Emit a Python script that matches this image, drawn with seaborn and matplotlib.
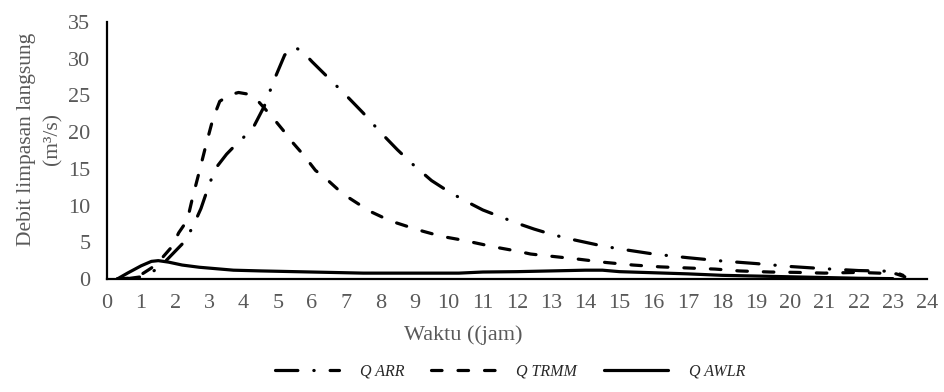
import matplotlib
matplotlib.use("Agg")
import matplotlib.pyplot as plt
import seaborn as sns
import pandas as pd
from matplotlib.lines import Line2D

# Direct runoff hydrographs (m3/s) against time (hours)
t_arr = [0.3, 0.6, 1.0, 1.3, 1.5, 1.75, 2.0, 2.25, 2.5, 2.75, 3.0, 3.2, 3.5, 3.75,
         4.0, 4.3, 4.6, 4.9, 5.2, 5.45, 5.7, 6.0, 6.5, 7.0, 7.5, 8.0, 8.5, 9.0,
         9.5, 10.0, 10.5, 11.0, 11.5, 12.0, 12.5, 13.0, 13.5, 14.0, 14.5, 15.0,
         16.0, 17.0, 18.0, 19.0, 20.0, 21.0, 22.0, 23.0, 23.3]
q_arr = [0.0, 0.05, 0.3, 0.9, 1.5, 2.6, 3.8, 5.0, 7.0, 9.6, 13.0, 15.2, 17.0, 18.2,
         19.3, 20.8, 23.5, 27.2, 30.5, 31.6, 31.1, 29.6, 27.3, 25.0, 22.6, 20.0, 17.6, 15.4,
         13.4, 11.9, 10.6, 9.4, 8.5, 7.6, 6.8, 6.1, 5.5, 5.0, 4.5, 4.1,
         3.4, 2.9, 2.45, 2.1, 1.7, 1.4, 1.15, 1.05, 0.5]

t_trmm = [0.3, 0.6, 1.0, 1.3, 1.6, 1.9, 2.1, 2.35, 2.5, 2.7, 2.9, 3.1, 3.3, 3.6,
          3.85, 4.1, 4.35, 4.6, 4.9, 5.2, 5.45, 5.75, 6.1, 6.45, 6.9, 7.4, 7.75,
          8.3, 8.9, 9.25, 9.8, 10.4, 10.8, 11.35, 12.0, 12.4, 13.0, 13.8, 14.6,
          15.4, 16.2, 17.0, 17.8, 18.5, 19.4, 20.2, 21.0, 22.0, 22.6, 23.1, 23.35]
q_trmm = [0.0, 0.1, 0.6, 1.5, 2.8, 4.4, 6.3, 8.0, 11.0, 14.6, 18.3, 21.8, 24.2, 25.1,
          25.4, 25.2, 24.6, 23.3, 21.7, 20.0, 18.5, 16.9, 14.8, 13.5, 11.6, 10.1, 9.1,
          7.9, 7.0, 6.5, 5.8, 5.3, 4.9, 4.35, 3.8, 3.4, 3.1, 2.7, 2.25,
          1.9, 1.65, 1.5, 1.35, 1.1, 0.95, 0.9, 0.8, 0.9, 0.8, 0.7, 0.3]

t_awlr = [0.3, 0.6, 1.0, 1.3, 1.5, 1.8, 2.2, 2.7, 3.2, 3.7, 4.5, 5.5, 6.5, 7.5,
          8.5, 9.5, 10.3, 11.0, 12.0, 13.0, 14.0, 14.5, 15.0, 16.0, 17.0, 18.0,
          19.0, 20.0, 21.0, 22.0, 23.0]
q_awlr = [0.0, 0.8, 1.8, 2.4, 2.5, 2.3, 1.9, 1.6, 1.4, 1.2, 1.1, 1.0, 0.9, 0.8,
          0.8, 0.8, 0.8, 0.95, 1.0, 1.1, 1.2, 1.2, 1.0, 0.85, 0.7, 0.5,
          0.4, 0.3, 0.2, 0.1, 0.05]

labels = ["Q ARR", "Q TRMM", "Q AWLR"]
x_ticks = list(range(0, 25))
y_ticks = list(range(0, 36, 5))

sns.set_theme(style="white")
plt.rcParams["font.family"] = ["Liberation Serif", "DejaVu Serif"]

GRAY = "#595959"
LW = 2.3
styles = [
    dict(dashes=(7, 5, 0.1, 5)),   # long dash - dot
    dict(dashes=(3.3, 5.0)),       # dashed
    dict(dashes=None),             # solid
]

fig = plt.figure(figsize=(9.44, 3.92), dpi=100)
ax = fig.add_axes([107 / 944, 1 - 279 / 392, 820 / 944, 257 / 392])

series = [(t_arr, q_arr), (t_trmm, q_trmm), (t_awlr, q_awlr)]
handles = []
for (tt, qq), lab, st in zip(series, labels, styles):
    df = pd.DataFrame({"t": tt, "q": qq})
    sns.lineplot(data=df, x="t", y="q", ax=ax, color="black", lw=LW,
                 estimator=None, sort=False)
    ln = ax.lines[-1]
    ln.set_dash_capstyle("round")
    ln.set_solid_capstyle("round")
    ln.set_solid_joinstyle("round")
    if st["dashes"] is not None:
        ln.set_dashes(st["dashes"])
    h = Line2D([], [], color="black", lw=LW, dash_capstyle="round")
    if st["dashes"] is not None:
        h.set_dashes(st["dashes"])
    handles.append(h)

ax.set_xlim(0, 24)
ax.set_ylim(0, 35)
ax.set_xticks(x_ticks)
ax.set_yticks(y_ticks)
ax.tick_params(axis="both", length=0, labelsize=16, colors=GRAY)
ax.tick_params(axis="x", pad=11)
ax.tick_params(axis="y", pad=12)
for s in ["top", "right"]:
    ax.spines[s].set_visible(False)
for s in ["left", "bottom"]:
    ax.spines[s].set_color("black")
    ax.spines[s].set_linewidth(1.6)
ax.grid(False)

ax.set_xlabel("")
ax.set_ylabel("Debit limpasan langsung\n(m³/s)", fontsize=15.5, color=GRAY,
              linespacing=1.5)
ax.yaxis.set_label_coords(-0.054, 0.545)

fig.text(463 / 944, 1 - 335 / 392, "Waktu ((jam)", ha="center", va="center",
         fontsize=16, color=GRAY)

fig.legend(handles, labels, loc="center", bbox_to_anchor=(510 / 944, 1 - 372 / 392),
           ncol=3, frameon=False, handlelength=4.0, handletextpad=1.3,
           columnspacing=1.7, prop=dict(style="italic", size=11.5))

fig.savefig("out.png", dpi=100)
